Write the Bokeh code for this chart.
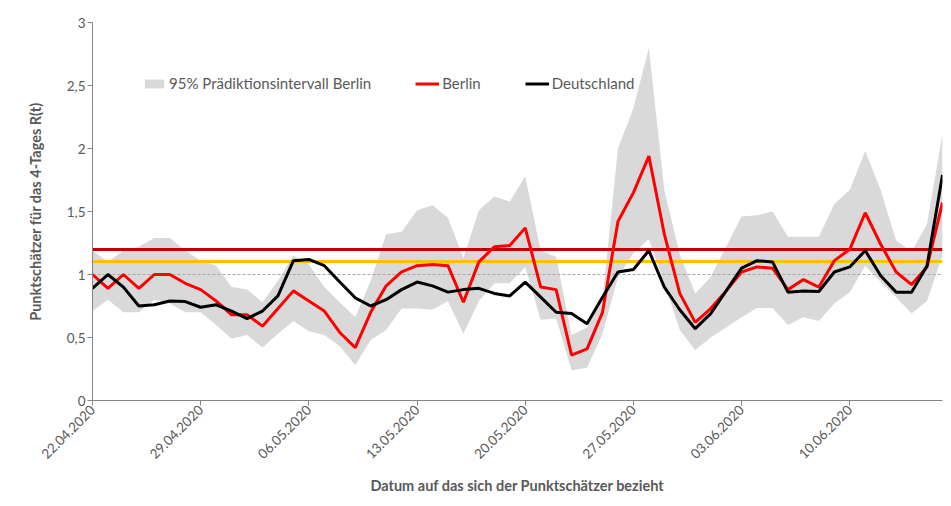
import numpy as np
import pandas as pd
from bokeh.plotting import figure
from bokeh.models import Range1d, FixedTicker, DatetimeTickFormatter, Legend, LegendItem
from bokeh.embed import file_html
from bokeh.resources import INLINE

# ---------------- data ----------------
dates = pd.date_range("2020-04-22", "2020-06-16", freq="D")

berlin = [1.00, 0.89, 1.00, 0.89, 1.00, 1.00, 0.93, 0.88, 0.79, 0.68,
          0.68, 0.59, 0.73, 0.87, 0.79, 0.71, 0.54, 0.42, 0.70, 0.91,
          1.02, 1.07, 1.08, 1.07, 0.78, 1.10, 1.22, 1.23, 1.37, 0.90,
          0.88, 0.36, 0.41, 0.70, 1.42, 1.65, 1.94, 1.32, 0.85, 0.62,
          0.73, 0.87, 1.02, 1.06, 1.05, 0.88, 0.96, 0.90, 1.11, 1.20,
          1.49, 1.24, 1.02, 0.92, 1.06, 1.57]

deutschland = [0.89, 1.00, 0.90, 0.75, 0.76, 0.79, 0.785, 0.74, 0.76, 0.71,
               0.65, 0.71, 0.83, 1.11, 1.12, 1.07, 0.94, 0.815, 0.75, 0.80,
               0.88, 0.94, 0.91, 0.86, 0.88, 0.89, 0.85, 0.83, 0.94, 0.82,
               0.70, 0.69, 0.61, 0.82, 1.02, 1.04, 1.19, 0.90, 0.72, 0.57,
               0.69, 0.87, 1.05, 1.11, 1.10, 0.86, 0.87, 0.865, 1.02, 1.06,
               1.19, 0.99, 0.86, 0.86, 1.07, 1.79]

band_upper = [1.19, 1.10, 1.19, 1.22, 1.29, 1.29, 1.19, 1.11, 1.07, 0.90,
              0.88, 0.78, 0.95, 1.15, 1.08, 0.90, 0.78, 0.66, 0.95, 1.32,
              1.34, 1.51, 1.55, 1.45, 1.13, 1.51, 1.62, 1.58, 1.78, 1.19,
              1.14, 0.52, 0.58, 0.80, 2.00, 2.32, 2.80, 1.67, 1.16, 0.85,
              0.98, 1.22, 1.46, 1.47, 1.50, 1.30, 1.30, 1.30, 1.56, 1.67,
              1.98, 1.67, 1.27, 1.18, 1.40, 2.12]

band_lower = [0.71, 0.80, 0.70, 0.70, 0.80, 0.77, 0.70, 0.70, 0.60, 0.49,
              0.52, 0.42, 0.53, 0.63, 0.55, 0.52, 0.43, 0.28, 0.48, 0.56,
              0.73, 0.73, 0.72, 0.79, 0.53, 0.79, 0.93, 0.93, 1.06, 0.64,
              0.65, 0.24, 0.26, 0.53, 0.98, 1.17, 1.28, 0.93, 0.56, 0.40,
              0.50, 0.58, 0.66, 0.735, 0.735, 0.60, 0.66, 0.63, 0.77, 0.86,
              1.07, 0.94, 0.82, 0.69, 0.79, 1.15]

tick_dates = dates[::7]
y_ticks = [0, 0.5, 1, 1.5, 2, 2.5, 3]
y_tick_labels = ["0", "0,5", "1", "1,5", "2", "2,5", "3"]

level_dark_red = 1.2
level_yellow = 1.1
level_dashed = 1.0

legend_labels = ["95% Prädiktionsintervall Berlin", "Berlin", "Deutschland"]
x_title = "Datum auf das sich der Punktschätzer bezieht"
y_title = "Punktschätzer für das 4-Tages R(t)"

# ---------------- styling ----------------
TEXT = "#595959"
AXIS = "#868686"
FONT = "Lato"

p = figure(width=950, height=505, x_axis_type="datetime",
           x_range=Range1d(dates[0], dates[-1]), y_range=Range1d(0, 3),
           output_backend="svg", toolbar_location=None,
           min_border_left=92, min_border_right=8,
           min_border_top=22, min_border_bottom=105)
p.outline_line_color = None
p.xgrid.visible = False
p.ygrid.visible = False
p.background_fill_color = "white"
p.border_fill_color = "white"

band = p.varea(x=dates, y1=band_lower, y2=band_upper, fill_color="#d9d9d9")
p.hspan(y=[level_dashed], line_color="#a6a6a6", line_width=1, line_dash="3 2")
p.hspan(y=[level_dark_red], line_color="#c00000", line_width=3)
p.hspan(y=[level_yellow], line_color="#ffc000", line_width=3)
r_be = p.line(dates, berlin, line_color="#ff0000", line_width=3)
r_de = p.line(dates, deutschland, line_color="#000000", line_width=3)

# axes
tick_ms = ((tick_dates - pd.Timestamp("1970-01-01")) // pd.Timedelta(milliseconds=1)).tolist()
p.xaxis.ticker = FixedTicker(ticks=tick_ms)
fmt = "%d.%m.%Y"
p.xaxis.formatter = DatetimeTickFormatter(
    microseconds=fmt, milliseconds=fmt, seconds=fmt, minsec=fmt, minutes=fmt,
    hourmin=fmt, hours=fmt, days=fmt, months=fmt, years=fmt)
p.xaxis.major_label_orientation = np.pi / 4

p.yaxis.ticker = FixedTicker(ticks=y_ticks)
p.yaxis.major_label_overrides = {t: l for t, l in zip(y_ticks, y_tick_labels)}

for ax in (p.xaxis[0], p.yaxis[0]):
    ax.axis_line_color = AXIS
    ax.axis_line_width = 1
    ax.major_tick_line_color = AXIS
    ax.major_tick_in = 0
    ax.major_tick_out = 5
    ax.minor_tick_line_color = None
    ax.major_label_text_font = FONT
    ax.major_label_text_color = TEXT
    ax.major_label_text_font_size = "13.5px"
    ax.major_label_standoff = 2
    ax.axis_label_text_font = FONT
    ax.axis_label_text_font_style = "bold"
    ax.axis_label_text_color = TEXT
    ax.axis_label_text_font_size = "14.5px"

p.xaxis.axis_label = x_title
p.yaxis.axis_label = y_title
p.xaxis.axis_label_standoff = 11
p.yaxis.axis_label_standoff = 20

legend = Legend(items=[LegendItem(label=legend_labels[0], renderers=[band]),
                       LegendItem(label=legend_labels[1], renderers=[r_be]),
                       LegendItem(label=legend_labels[2], renderers=[r_de])],
                orientation="horizontal", location=(50, 308),
                glyph_width=24, glyph_height=11, label_standoff=3, spacing=44,
                padding=0, margin=0, label_height=16,
                border_line_alpha=0, background_fill_alpha=0,
                label_text_font=FONT, label_text_font_size="15px",
                label_text_color=TEXT)
p.add_layout(legend, "center")

open("out.html", "w").write(file_html(p, INLINE))
